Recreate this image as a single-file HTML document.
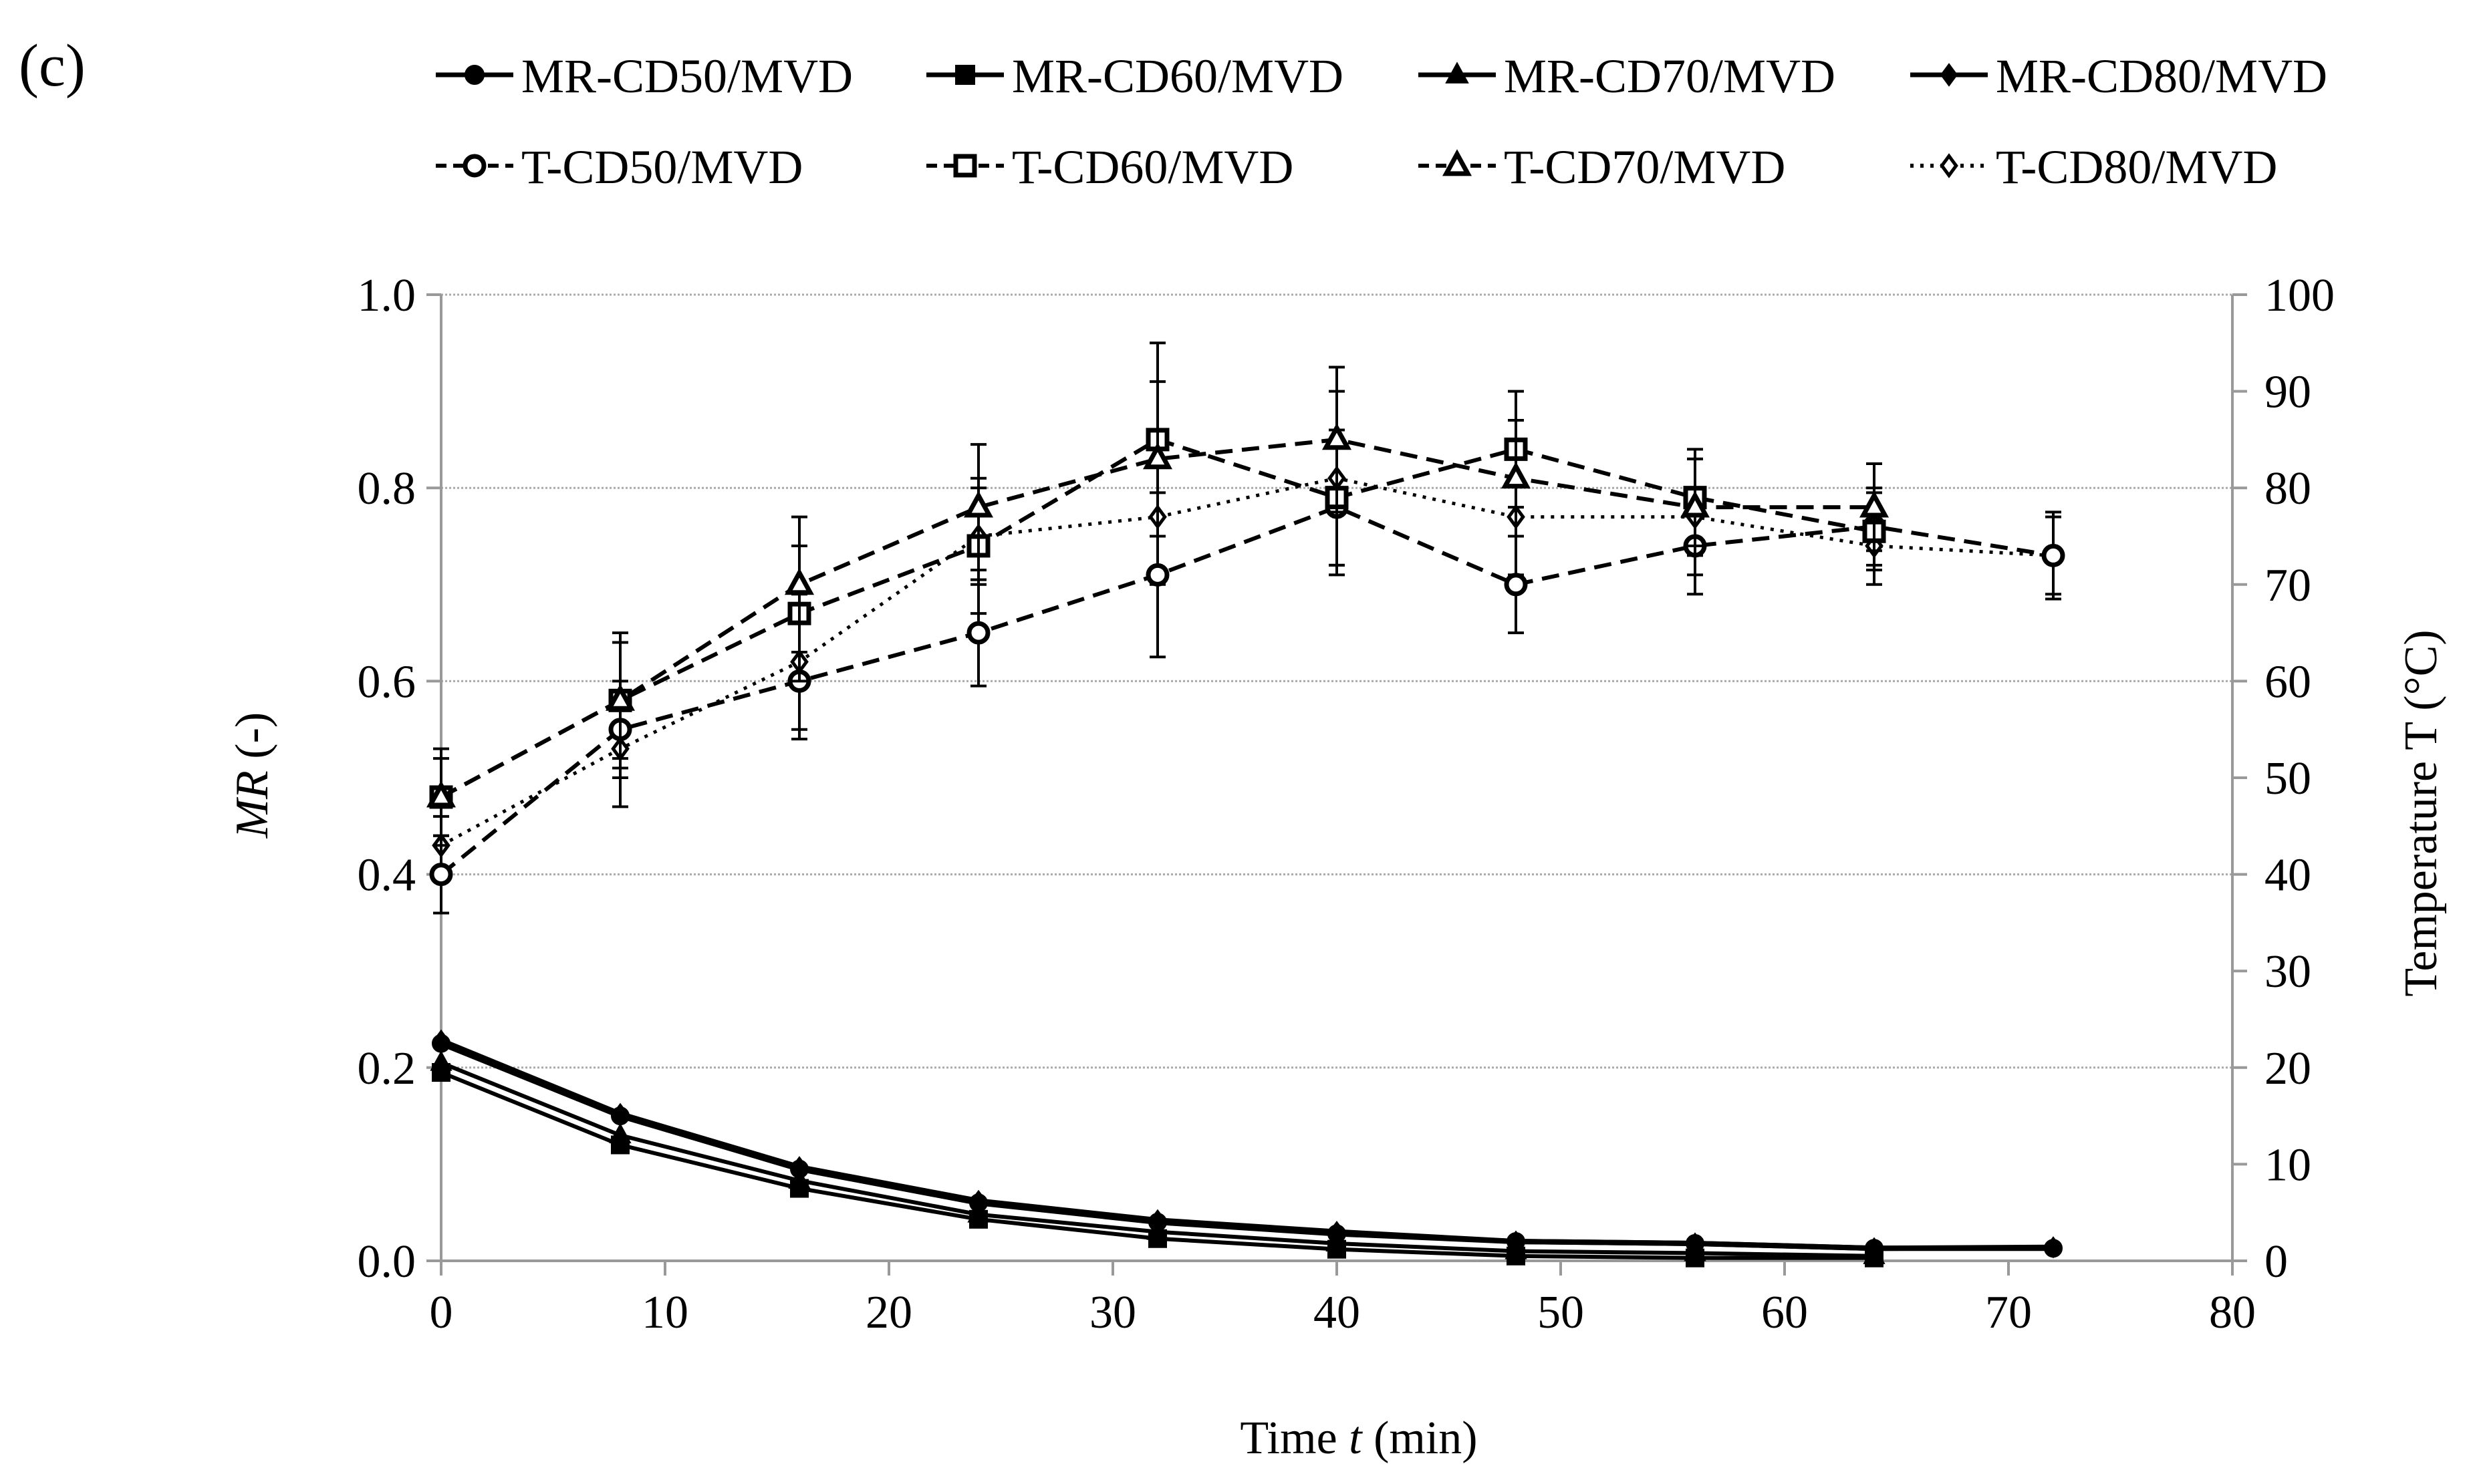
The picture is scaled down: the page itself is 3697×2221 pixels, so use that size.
<!DOCTYPE html>
<html><head><meta charset="utf-8"><style>
html,body{margin:0;padding:0;background:#fff;}
svg{display:block;font-family:"Liberation Serif",serif;}
</style></head><body>
<svg id="chart" width="3697" height="2221" viewBox="0 0 3697 2221" xmlns="http://www.w3.org/2000/svg">
<text x="28" y="128" font-size="90">(c)</text>
<g id="grid"></g>
<g id="axes"></g>
<g id="series"></g>
<g id="legend"></g>
<text x="2033" y="2175" font-size="70" text-anchor="middle">Time <tspan font-style="italic">t</tspan> (min)</text>
<text transform="translate(400,1160) rotate(-90)" font-size="70" text-anchor="middle"><tspan font-style="italic">MR</tspan> (-)</text>
<text transform="translate(3645,1217) rotate(-90)" font-size="70" text-anchor="middle">Temperature T (°C)</text>
</svg>
<script>
const times = [0,8,16,24,32,40,48,56,64,72];
const xTicks = [0,10,20,30,40,50,60,70,80];
const yTicks = ["0.0","0.2","0.4","0.6","0.8","1.0"];
const y2Ticks = [0,10,20,30,40,50,60,70,80,90,100];
const mrCD50 = [0.225,0.150,0.095,0.060,0.040,0.028,0.020,0.018,0.013,0.013];
const mrCD60 = [0.195,0.120,0.075,0.043,0.023,0.012,0.005,0.003,0.003];
const mrCD70 = [0.205,0.130,0.083,0.048,0.030,0.018,0.010,0.008,0.005];
const mrCD80 = [0.228,0.152,0.097,0.062,0.042,0.030,0.020,0.018,0.013,0.014];
const tCD50 = [40,55,60,65,71,78,70,74,76,73];
const tCD50err = [4,5,6,5.5,8.5,7,5,5,4,4.5];
const tCD60 = [48,58,67,74,85,79,84,79,75.5];
const tCD60err = [5,7,7,7,10,7,6,5,4];
const tCD70 = [48,58,70,78,83,85,81,78,78];
const tCD70err = [4,6,7,6.5,8,7.5,6,5,4.5];
const tCD80 = [43,53,62,75,77,81,77,77,74,73];
const tCD80err = [3,6,7,5,7,9,6,6,4,4];

const NS="http://www.w3.org/2000/svg";
const X0=660,X1=3340,Y0=1887,Y1=441;
const sx=t=>X0+(t/80)*(X1-X0);
const sy=v=>Y0-v*(Y0-Y1);
const sy2=v=>Y0-(v/100)*(Y0-Y1);
function mk(tag,attrs,parent){const e=document.createElementNS(NS,tag);for(const k in attrs)e.setAttribute(k,attrs[k]);parent.appendChild(e);return e;}
const grid=document.getElementById('grid'),axes=document.getElementById('axes'),ser=document.getElementById('series'),leg=document.getElementById('legend');

yTicks.forEach(lbl=>{const v=parseFloat(lbl),y=sy(v);
 if(v>0){const g=mk('line',{x1:X0,x2:X1,y1:y,y2:y,stroke:'#aaa','stroke-width':3,'stroke-dasharray':'3 3'},grid);
 }
 const tk=mk('line',{x1:X0-22,x2:X0,y1:y,y2:y,stroke:'#999','stroke-width':4},axes);
 
 const t=mk('text',{x:X0-38,y:y+24,'font-size':70,'text-anchor':'end'},axes);t.textContent=lbl;
 });
y2Ticks.forEach(v=>{const y=sy2(v);
 const tk=mk('line',{x1:X1,x2:X1+22,y1:y,y2:y,stroke:'#999','stroke-width':4},axes);
 
 const t=mk('text',{x:X1+48,y:y+24,'font-size':70},axes);t.textContent=v;
 });
xTicks.forEach(v=>{const x=sx(v);
 const tk=mk('line',{x1:x,x2:x,y1:Y0,y2:Y0+22,stroke:'#999','stroke-width':4},axes);
 
 const t=mk('text',{x:x,y:Y0+100,'font-size':70,'text-anchor':'middle'},axes);t.textContent=v;
 });
[[X0,Y1,X0,Y0],[X1,Y1,X1,Y0],[X0,Y0,X1,Y0]].forEach(a=>{const l=mk('line',{x1:a[0],y1:a[1],x2:a[2],y2:a[3],stroke:'#999','stroke-width':4},axes);
 });

function marker(type,x,y,filled,parent,r){
 r=r||14;const fill=filled?'#000':'#fff',sw=filled?2:7;let e;
 if(type==='circle')e=mk('circle',{cx:x,cy:y,r:r,fill:fill,stroke:'#000','stroke-width':sw},parent);
 else if(type==='square')e=mk('rect',{x:x-r,y:y-r,width:2*r,height:2*r,fill:fill,stroke:'#000','stroke-width':sw},parent);
 else if(type==='triangle')e=mk('polygon',{points:`${x},${y-r*1.25} ${x+r*1.15},${y+r*0.85} ${x-r*1.15},${y+r*0.85}`,fill:fill,stroke:'#000','stroke-width':sw},parent);
 else {const rr=filled?r:r*0.9;e=mk('polygon',{points:`${x},${y-rr*1.15} ${x+rr*0.85},${y} ${x},${y+rr*1.15} ${x-rr*0.85},${y}`,fill:fill,stroke:'#000','stroke-width':filled?2:5},parent);}
 return e;}

function drawSeries(name,vals,errs,scale,type,filled,dash,lw){
 const g=mk('g',{},ser);
 const pts=vals.map((v,i)=>[sx(times[i]),scale(v)]);
 if(errs){vals.forEach((v,i)=>{const x=sx(times[i]),a=scale(v+errs[i]),b=scale(v-errs[i]);
  const e=mk('path',{d:`M${x},${a}V${b}M${x-12},${a}H${x+12}M${x-12},${b}H${x+12}`,stroke:'#000','stroke-width':4,fill:'none'},g);
  });}
 const p=mk('polyline',{points:pts.map(q=>q.join(',')).join(' '),fill:'none',stroke:'#000','stroke-width':lw,'stroke-dasharray':dash||'none'},g);
 
 pts.forEach(q=>{const m=marker(type,q[0],q[1],filled,g,filled?13:14);
  });}

drawSeries('t-cd80-series',tCD80,tCD80err,sy2,'diamond',false,'5 10',5);
drawSeries('t-cd50-series',tCD50,tCD50err,sy2,'circle',false,'26 14',6);
drawSeries('t-cd60-series',tCD60,tCD60err,sy2,'square',false,'26 14',6);
drawSeries('t-cd70-series',tCD70,tCD70err,sy2,'triangle',false,'26 14',6);
drawSeries('mr-cd60-series',mrCD60,null,sy,'square',true,null,6);
drawSeries('mr-cd70-series',mrCD70,null,sy,'triangle',true,null,6);
drawSeries('mr-cd50-series',mrCD50,null,sy,'circle',true,null,8);
drawSeries('mr-cd80-series',mrCD80,null,sy,'diamond',true,null,8);

const legNames=['MR-CD50/MVD','MR-CD60/MVD','MR-CD70/MVD','MR-CD80/MVD','T-CD50/MVD','T-CD60/MVD','T-CD70/MVD','T-CD80/MVD'];
const legTypes=['circle','square','triangle','diamond','circle','square','triangle','diamond'];
const colX=[652,1386,2122,2858],rowY=[112,248];
legNames.forEach((n,i)=>{const r=Math.floor(i/4),c=i%4,x=colX[c],y=rowY[r],filled=r===0;
 const g=mk('g',{},leg);
 const dash=filled?'none':(c===3?'5 10':'16 10');
 mk('line',{x1:x,x2:x+116,y1:y,y2:y,stroke:'#000','stroke-width':filled?7:6,'stroke-dasharray':dash},g);
 marker(legTypes[i],x+58,y,filled,g,filled?14:14);
 const t=mk('text',{x:x+128,y:y+26,'font-size':72},g);t.textContent=n;});
</script>
</body></html>
